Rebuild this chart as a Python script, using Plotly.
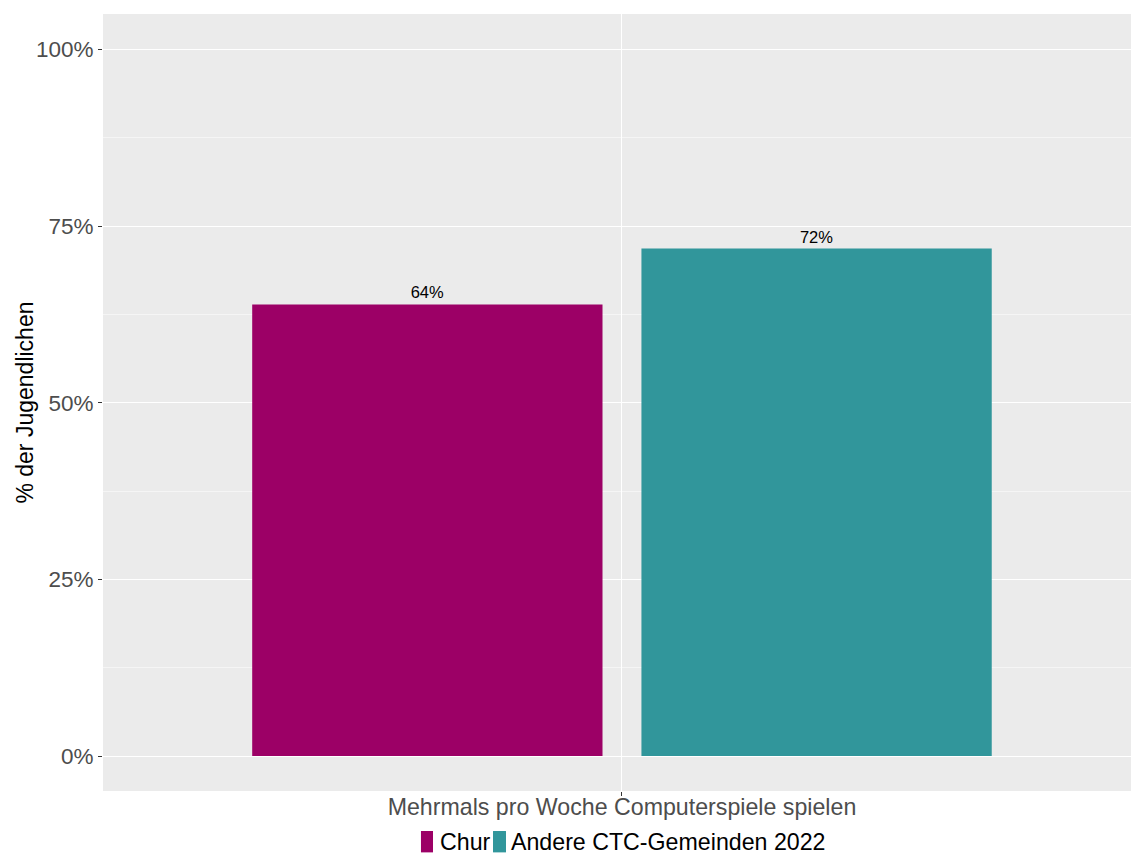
import plotly.graph_objects as go

categories = ["Mehrmals pro Woche Computerspiele spielen"]
series_names = ["Chur", "Andere CTC-Gemeinden 2022"]
chur_values = [0.639]
andere_values = [0.718]
colors = ["#9C0066", "#31969B"]
y_title = "% der Jugendlichen"

fig = go.Figure()
for name, vals, col in zip(series_names, [chur_values, andere_values], colors):
    fig.add_trace(go.Bar(
        x=categories, y=vals, name=name, marker=dict(color=col, line=dict(width=0)),
        text=[f"{round(v*100)}%" for v in vals], textposition="outside",
        textfont=dict(size=16.5, color="black"), cliponaxis=False,
    ))

# manual legend (ggplot-style keys under the axis)
legend_keys_x = [(0.3093, 0.3210), (0.3794, 0.3920)]
legend_text_x = [0.3259, 0.3950]
for (x0, x1), tx, name, col in zip(legend_keys_x, legend_text_x, series_names, colors):
    fig.add_shape(type="rect", xref="paper", yref="paper", x0=x0, x1=x1, y0=-0.079, y1=-0.0515,
                  fillcolor=col, line=dict(width=0))
    fig.add_annotation(xref="paper", yref="paper", x=tx, y=-0.0655, text=name, showarrow=False,
                       xanchor="left", yanchor="middle", font=dict(size=23.2, color="black"))

# y-axis title as rotated annotation
fig.add_annotation(xref="paper", yref="paper", x=-0.0768, y=0.5, text=y_title, showarrow=False,
                   textangle=-90, xanchor="center", yanchor="middle",
                   font=dict(size=23, color="black"))

fig.update_layout(
    width=1131, height=854,
    margin=dict(l=103, r=0, t=14, b=63, autoexpand=False),
    paper_bgcolor="white", plot_bgcolor="#EBEBEB",
    font=dict(family="Liberation Sans, Arial, sans-serif"),
    barmode="group", bargap=0.1, bargroupgap=0.1,
    showlegend=False,
)
fig.update_xaxes(
    range=[-0.6, 0.5885], showgrid=True, gridcolor="white", gridwidth=1.2,
    ticks="outside", ticklen=4, tickcolor="#333333", automargin=False,
    ticklabelstandoff=-9,
    tickfont=dict(size=23.2, color="#4D4D4D"), zeroline=False, showline=False,
)
fig.update_yaxes(
    range=[-0.0495, 1.05], tickvals=[0, 0.25, 0.5, 0.75, 1.0],
    ticktext=["0%", "25%", "50%", "75%", "100%"],
    showgrid=True, gridcolor="white", gridwidth=1.2, automargin=False,
    minor=dict(tickvals=[0.125, 0.375, 0.625, 0.875], showgrid=True, gridcolor="#F5F5F5", gridwidth=0.6, ticks=""),
    ticks="outside", ticklen=4, tickcolor="#333333",
    tickfont=dict(size=22.5, color="#4D4D4D"), zeroline=False, showline=False,
)

fig.write_html(
    "out.html",
    config={"displayModeBar": False},
    post_script="document.body.style.margin='0';document.body.style.overflow='hidden';",
)
